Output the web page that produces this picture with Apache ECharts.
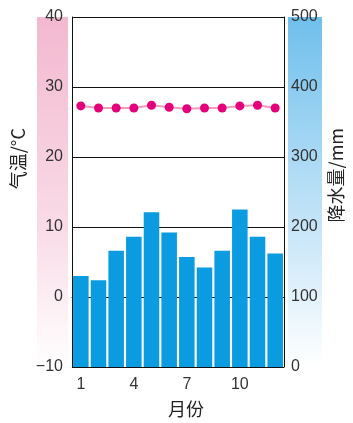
<!DOCTYPE html>
<html><head><meta charset="utf-8">
<script src="https://cdn.jsdelivr.net/npm/echarts@6/dist/echarts.min.js"></script>
<style>html,body{margin:0;padding:0;background:#fff}#c{width:353px;height:423px}</style>
</head><body><div id="c"></div>
<script>
const months = ['1','2','3','4','5','6','7','8','9','10','11','12'];
const temperature = [27.3, 27.0, 27.0, 27.0, 27.4, 27.1, 26.9, 27.0, 27.0, 27.3, 27.4, 27.0];
const precipitation = [130, 124, 166, 186, 221, 192, 157, 142, 166, 225, 186, 162];
const shownMonthLabels = ['1','4','7','10'];
const tempAxisTitle = '气温/°C';
const rainAxisTitle = '降水量/mm';
const xAxisTitle = '月份';

const chart = echarts.init(document.getElementById('c'), null, {renderer:'canvas'});
const numFont = '"Liberation Sans Narrow","Liberation Sans",sans-serif';
const cjkFont = '"Noto Sans CJK SC",sans-serif';
chart.setOption({
  animation:false,
  grid:{left:72,right:69,top:17,bottom:56,containLabel:false},
  graphic:[
    {type:'rect',z:-10,shape:{x:37,y:17,width:31,height:350},
     style:{fill:new echarts.graphic.LinearGradient(0,0,0,1,[{offset:0,color:'#f3b8cf'},{offset:0.6,color:'#f9dbe7'},{offset:1,color:'#ffffff'}])}},
    {type:'rect',z:-10,shape:{x:288,y:17,width:34,height:350},
     style:{fill:new echarts.graphic.LinearGradient(0,0,0,1,[{offset:0,color:'#6fbfec'},{offset:0.55,color:'#bfe2f7'},{offset:1,color:'#ffffff'}])}},
    {type:'text',left:9,top:128,rotation:Math.PI/2,
     style:{text:tempAxisTitle,font:'18px '+cjkFont,fill:'#222'}},
    {type:'text',left:327,top:128,rotation:Math.PI/2,
     style:{text:rainAxisTitle,font:'18px '+cjkFont,fill:'#222'}},
    {type:'text',left:168,top:400,
     style:{text:xAxisTitle,font:'18px '+cjkFont,fill:'#222'}}
  ],
  xAxis:{type:'category',data:months,
    axisLine:{show:true,lineStyle:{color:'#111',width:1}},
    axisTick:{show:false},
    axisLabel:{interval:0,formatter:v=>shownMonthLabels.includes(v)?v:'',margin:10,fontSize:16,color:'#333',fontFamily:numFont},
    splitLine:{show:false}},
  yAxis:[
    {type:'value',min:-10,max:40,interval:10,position:'left',
     axisLine:{show:true,lineStyle:{color:'#111'}},axisTick:{show:false},
     axisLabel:{fontSize:16,color:'#333',margin:9,fontFamily:numFont,formatter:v=>v<0?'\u2212'+Math.abs(v):String(v)},
     splitLine:{show:true,lineStyle:{color:'#111',width:1}}},
    {type:'value',min:0,max:500,interval:100,position:'right',
     axisLine:{show:true,lineStyle:{color:'#111'}},axisTick:{show:false},
     axisLabel:{fontSize:16,color:'#333',margin:7,fontFamily:numFont},
     splitLine:{show:false}}
  ],
  series:[
    {type:'bar',yAxisIndex:1,data:precipitation,barCategoryGap:'12%',
     itemStyle:{color:'#0a9be0'}},
    {type:'line',yAxisIndex:0,data:temperature,symbol:'circle',symbolSize:9,
     lineStyle:{color:'#f29bbd',width:2},itemStyle:{color:'#e4007a'},z:5}
  ]
});
</script></body></html>
